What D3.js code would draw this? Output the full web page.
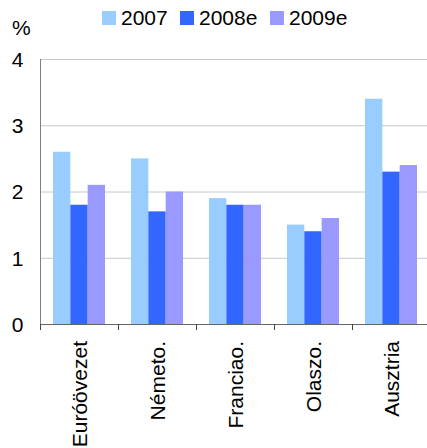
<!DOCTYPE html>
<html>
<head>
<meta charset="utf-8">
<script src="https://cdn.jsdelivr.net/npm/d3@7"></script>
<style>
  body { margin: 0; background: #fff; }
  text { font-family: "Liberation Sans", Arial, sans-serif; fill: #000; }
</style>
</head>
<body>
<script>
const w = 427;
const h = 448;

const categories = ["Euróövezet", "Németo.", "Franciao.", "Olaszo.", "Ausztria"];
const seriesNames = ["2007", "2008e", "2009e"];
const values2007 = [2.6, 2.5, 1.9, 1.5, 3.4];
const values2008 = [1.8, 1.7, 1.8, 1.4, 2.3];
const values2009 = [2.1, 2.0, 1.8, 1.6, 2.4];
const yTicks = [0, 1, 2, 3, 4];
const colors = ["#99ccff", "#3366ff", "#9999ff"];

const seriesValues = [values2007, values2008, values2009];
const rows = categories.map((c, i) => ({
  cat: c,
  vals: seriesNames.map((s, j) => ({ key: s, value: seriesValues[j][i] }))
}));

const svg = d3.select("body").append("svg")
  .attr("width", w)
  .attr("height", h);

const x0 = d3.scaleBand()
  .domain(categories)
  .range([40, 430])
  .paddingInner(0);

const x1 = d3.scaleBand()
  .domain(seriesNames)
  .range([0, x0.bandwidth()])
  .paddingInner(0)
  .paddingOuter(0.75);

const yScale = d3.scaleLinear()
  .domain([0, 4])
  .range([324, 59]);

const color = d3.scaleOrdinal().domain(seriesNames).range(colors);

// gridlines
svg.append("g")
  .selectAll("line")
  .data(yTicks.filter(d => d > 0))
  .enter()
  .append("line")
  .attr("x1", 40)
  .attr("x2", w)
  .attr("y1", d => yScale(d) + 0.5)
  .attr("y2", d => yScale(d) + 0.5)
  .attr("stroke", "#c8c8c8")
  .attr("stroke-width", 1);

// bars
svg.append("g")
  .selectAll("g")
  .data(rows)
  .enter()
  .append("g")
  .attr("transform", d => "translate(" + x0(d.cat) + ",0)")
  .selectAll("rect")
  .data(d => d.vals)
  .enter()
  .append("rect")
  .attr("x", d => x1(d.key))
  .attr("width", x1.bandwidth())
  .attr("y", d => yScale(d.value))
  .attr("height", d => yScale(0) - yScale(d.value))
  .attr("fill", d => color(d.key));

// y axis
const yAxis = d3.axisLeft(yScale)
  .tickValues(yTicks)
  .tickSize(0)
  .tickPadding(17)
  .tickFormat(d3.format("d"));

const gy = svg.append("g")
  .attr("transform", "translate(40.5,0)")
  .call(yAxis);
gy.select(".domain").attr("stroke", "#808080").attr("d", "M0," + yScale(4) + "V" + yScale(0));
gy.selectAll("text").style("font-size", "21px").attr("dy", "0.35em");

// x axis line + ticks at group boundaries
svg.append("line")
  .attr("x1", 40)
  .attr("x2", w)
  .attr("y1", yScale(0) + 0.5)
  .attr("y2", yScale(0) + 0.5)
  .attr("stroke", "#666")
  .attr("stroke-width", 1.2);

svg.append("g")
  .selectAll("line")
  .data(categories)
  .enter()
  .append("line")
  .attr("x1", d => Math.round(x0(d)) + 0.5)
  .attr("x2", d => Math.round(x0(d)) + 0.5)
  .attr("y1", yScale(0))
  .attr("y2", yScale(0) + 6)
  .attr("stroke", "#444");

// category labels rotated
svg.append("g")
  .selectAll("text")
  .data(categories)
  .enter()
  .append("text")
  .attr("transform", d => "translate(" + (x0(d) + x0.bandwidth() / 2 + 8) + ",341) rotate(-90)")
  .attr("text-anchor", "end")
  .style("font-size", "21px")
  .text(d => d);

// % label
svg.append("text")
  .attr("x", 12)
  .attr("y", 35)
  .style("font-size", "21px")
  .text("%");

// legend
const legendX = [102, 180, 270];
const legend = svg.append("g")
  .selectAll("g")
  .data(seriesNames)
  .enter()
  .append("g")
  .attr("transform", (d, i) => "translate(" + legendX[i] + ",11)");
legend.append("rect")
  .attr("width", 14)
  .attr("height", 14)
  .attr("fill", d => color(d));
legend.append("text")
  .attr("x", 19)
  .attr("y", 14)
  .style("font-size", "21px")
  .text(d => d);
</script>
</body>
</html>
